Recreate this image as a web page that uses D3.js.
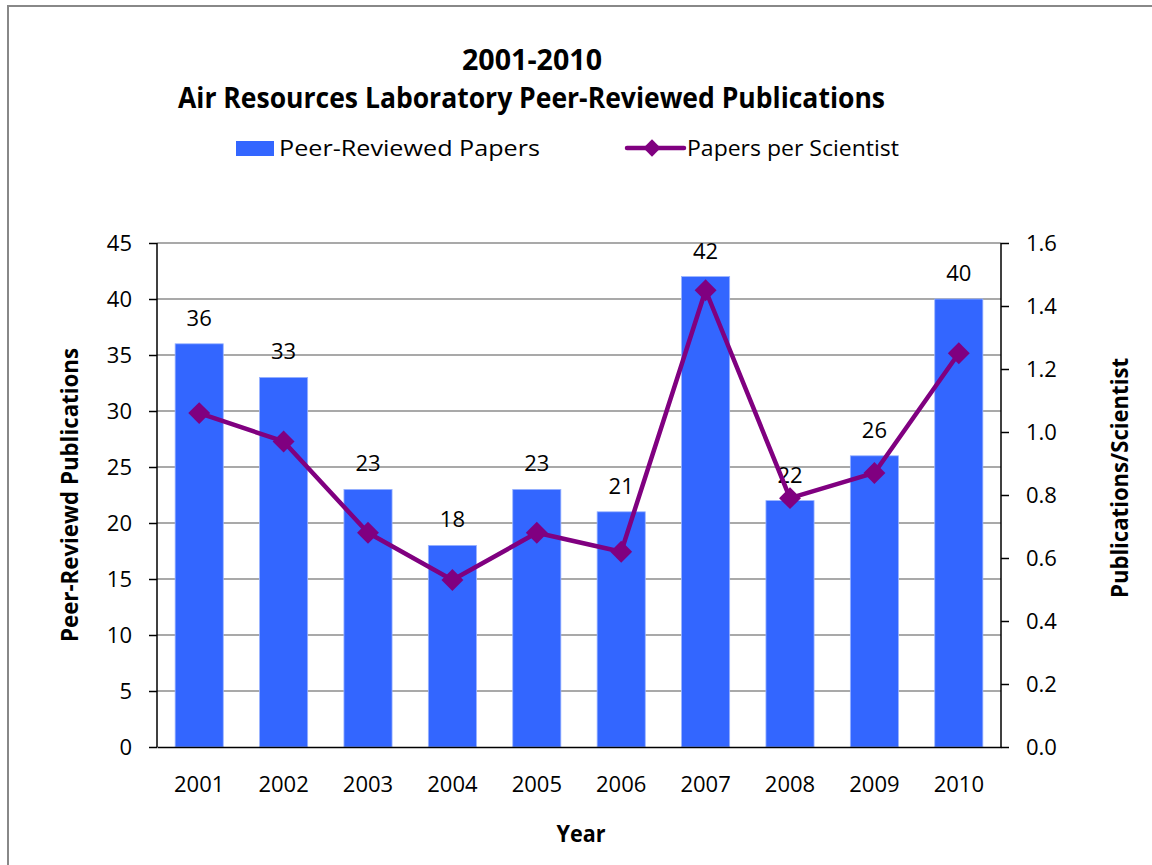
<!DOCTYPE html>
<html>
<head>
<meta charset="utf-8">
<script src="https://cdn.jsdelivr.net/npm/d3@7"></script>
<style>
  body { margin: 0; background: #fff; }
  svg { display: block; font-family: "Open Sans", sans-serif; }
</style>
</head>
<body>
<svg width="1152" height="865"></svg>
<script>
const years = ['2001', '2002', '2003', '2004', '2005', '2006', '2007', '2008', '2009', '2010']
const papers = [36, 33, 23, 18, 23, 21, 42, 22, 26, 40]
const perScientist = [1.06, 0.97, 0.68, 0.53, 0.68, 0.62, 1.45, 0.79, 0.87, 1.25]
const leftTicks = [0, 5, 10, 15, 20, 25, 30, 35, 40, 45]
const rightTicks = [0, 0.2, 0.4, 0.6, 0.8, 1.0, 1.2, 1.4, 1.6]

const svg = d3.select('svg')
const margin = {top: 243, right: 151, bottom: 118, left: 157}
const width = 1152, height = 865
const innerWidth = width - margin.left - margin.right
const innerHeight = height - margin.top - margin.bottom
const font = '"Open Sans", sans-serif'

// chart border (only top and left edges are visible in the picture)
svg.append('path')
  .attr('d', 'M8,865V6H1152')
  .attr('fill', 'none').attr('stroke', '#888').attr('stroke-width', 2)

const g = svg.append('g').attr('transform', `translate(${margin.left},${margin.top})`)

const x = d3.scaleBand().domain(years).range([0, innerWidth]).paddingInner(0.43).paddingOuter(0.215)
const yL = d3.scaleLinear().domain([0, 45]).range([innerHeight, 0])
const yR = d3.scaleLinear().domain([0, 1.6]).range([innerHeight, 0])

// gridlines
g.append('g').selectAll('line').data(leftTicks.slice(1)).join('line')
  .attr('x1', 0).attr('x2', innerWidth)
  .attr('y1', d => yL(d)).attr('y2', d => yL(d))
  .attr('stroke', '#8c8c8c').attr('stroke-width', 1.5)

// bars
g.append('g').selectAll('rect').data(papers).join('rect')
  .attr('x', (d, i) => x(years[i]))
  .attr('y', d => yL(d))
  .attr('width', x.bandwidth())
  .attr('height', d => innerHeight - yL(d))
  .attr('fill', '#3366ff')
  .attr('stroke', '#99b3ff').attr('stroke-width', 0.8)

// bar labels
g.append('g').selectAll('text').data(papers).join('text')
  .attr('x', (d, i) => x(years[i]) + x.bandwidth() / 2)
  .attr('y', d => yL(d) - 18)
  .attr('text-anchor', 'middle')
  .attr('font-size', 22)
  .text(d => d)

// axes
const axisL = g.append('g').call(d3.axisLeft(yL).tickValues(leftTicks).tickSize(8).tickPadding(17))
const axisR = g.append('g').attr('transform', `translate(${innerWidth},0)`)
  .call(d3.axisRight(yR).tickValues(rightTicks).tickSize(8).tickPadding(17).tickFormat(d3.format('.1f')))
const axisB = g.append('g').attr('transform', `translate(0,${innerHeight})`)
  .call(d3.axisBottom(x).tickSize(0).tickPadding(29))
;[axisL, axisR, axisB].forEach(a => {
  a.selectAll('text').attr('font-size', 22).attr('fill', '#000').attr('font-family', font)
  a.selectAll('path, line').attr('stroke', '#000').attr('stroke-width', 1.5)
})
axisL.select('.domain').attr('d', `M0,0V${innerHeight}`)
axisR.select('.domain').attr('d', `M0,0V${innerHeight}`)

// line series
const cx = (i) => x(years[i]) + x.bandwidth() / 2
const line = d3.line().x((d, i) => cx(i)).y(d => yR(d))
g.append('path').datum(perScientist)
  .attr('d', line)
  .attr('fill', 'none').attr('stroke', '#800080').attr('stroke-width', 4.5)
  .attr('stroke-linejoin', 'round')
g.append('g').selectAll('path').data(perScientist).join('path')
  .attr('transform', (d, i) => `translate(${cx(i)},${yR(d)}) rotate(45)`)
  .attr('d', d3.symbol().type(d3.symbolSquare).size(240))
  .attr('fill', '#800080')

// text helper: fixed width like the narrow original face
function label(sel, txt, size, len, bold) {
  return sel.append('text')
    .attr('text-anchor', 'middle')
    .attr('font-size', size)
    .attr('font-weight', bold ? 'bold' : 'normal')
    .attr('textLength', len)
    .attr('lengthAdjust', 'spacingAndGlyphs')
    .text(txt)
}

// titles
label(svg, '2001-2010', 28, 140, true).attr('x', 532).attr('y', 70)
label(svg, 'Air Resources Laboratory Peer-Reviewed Publications', 28, 707, true).attr('x', 531.5).attr('y', 108)

label(svg, 'Year', 23, 49, true).attr('x', 581).attr('y', 842)
label(svg, 'Peer-Reviewd Publications', 23, 294, true).attr('transform', 'translate(78,495) rotate(-90)')
label(svg, 'Publications/Scientist', 23, 240, true).attr('transform', 'translate(1128,478) rotate(-90)')

// legend
const legend = svg.append('g')
legend.append('rect').attr('x', 236).attr('y', 141).attr('width', 38).attr('height', 15).attr('fill', '#3366ff')
label(legend, 'Peer-Reviewed Papers', 21, 261, false).attr('text-anchor', 'start').attr('x', 279).attr('y', 156)
legend.append('line').attr('x1', 627).attr('x2', 684).attr('y1', 148).attr('y2', 148)
  .attr('stroke', '#800080').attr('stroke-width', 4.5).attr('stroke-linecap', 'round')
legend.append('path').attr('transform', 'translate(652,148) rotate(45)')
  .attr('d', d3.symbol().type(d3.symbolSquare).size(150)).attr('fill', '#800080')
label(legend, 'Papers per Scientist', 21, 212, false).attr('text-anchor', 'start').attr('x', 687).attr('y', 156)
</script>
</body>
</html>
